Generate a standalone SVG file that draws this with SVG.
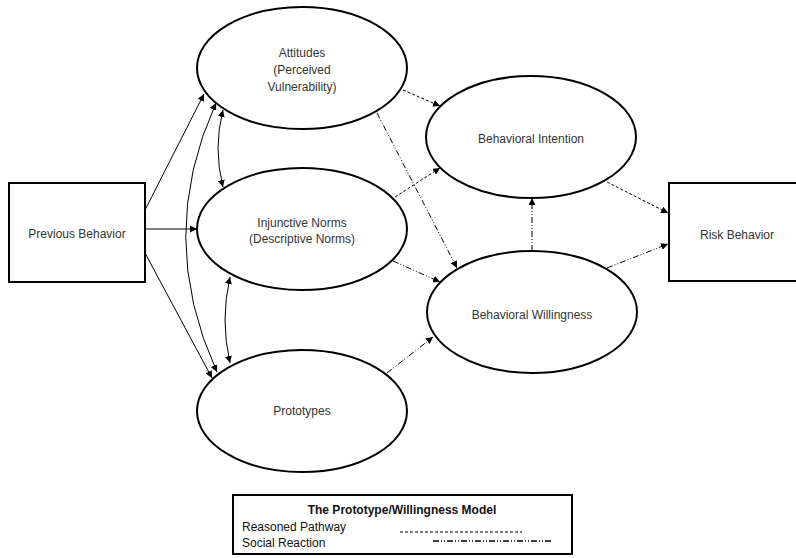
<svg xmlns="http://www.w3.org/2000/svg" width="796" height="558" viewBox="0 0 796 558">
<style>
.node{fill:#fff;stroke:#000;stroke-width:2}
.t{font-family:"Liberation Sans",Arial,sans-serif;font-size:12px;fill:#333;text-anchor:middle}
.lt{font-family:"Liberation Sans",Arial,sans-serif;font-size:12px;fill:#111}
.solid{fill:none;stroke:#000;stroke-width:1}
.reason{fill:none;stroke:#000;stroke-width:1;stroke-dasharray:3,2}
.social{fill:none;stroke:#000;stroke-width:1;stroke-dasharray:6,2,1,2,1,2}
</style>
<defs>
<marker id="ah" viewBox="0 0 10 10" refX="10" refY="5" markerWidth="7" markerHeight="7" markerUnits="userSpaceOnUse" orient="auto-start-reverse">
<path d="M0,0 L10,5 L0,10 Z" fill="#000"/>
</marker>
</defs>
<rect width="796" height="558" fill="#fff"/>
<g id="connectors">
<line class="solid" x1="145" y1="210" x2="204" y2="94" marker-end="url(#ah)"/>
<line class="solid" x1="145" y1="229" x2="197" y2="229" marker-end="url(#ah)"/>
<line class="solid" x1="145" y1="253" x2="212" y2="378" marker-end="url(#ah)"/>
<path class="solid" d="M216,103 Q155,237 217,372" marker-start="url(#ah)" marker-end="url(#ah)"/>
<path class="solid" d="M223,110 Q213,148 223,187" marker-start="url(#ah)" marker-end="url(#ah)"/>
<path class="solid" d="M230,277 Q220,320 230,363" marker-start="url(#ah)" marker-end="url(#ah)"/>
<line class="reason" x1="403" y1="90" x2="440" y2="106" marker-end="url(#ah)"/>
<line class="reason" x1="395" y1="197" x2="440" y2="168" marker-end="url(#ah)"/>
<line class="reason" x1="607" y1="182" x2="668" y2="213" marker-end="url(#ah)"/>
<line class="social" x1="377" y1="113" x2="457" y2="268" marker-end="url(#ah)"/>
<line class="social" x1="393" y1="261" x2="440" y2="282" marker-end="url(#ah)"/>
<line class="social" x1="387" y1="373" x2="433" y2="337" marker-end="url(#ah)"/>
<line class="social" x1="532" y1="251" x2="532" y2="198" marker-end="url(#ah)"/>
<line class="social" x1="607" y1="268" x2="668" y2="244" marker-end="url(#ah)"/>
</g>
<g id="previous-behavior">
<rect class="node" x="9" y="183" width="136" height="99"/>
<text class="t" x="77" y="238">Previous Behavior</text>
</g>
<g id="risk-behavior">
<rect class="node" x="669" y="183" width="140" height="98"/>
<text class="t" x="737" y="239">Risk Behavior</text>
</g>
<g id="attitudes">
<ellipse class="node" cx="302" cy="68" rx="105" ry="61"/>
<text class="t" x="302" y="57">Attitudes</text>
<text class="t" x="302" y="74">(Perceived</text>
<text class="t" x="302" y="91">Vulnerability)</text>
</g>
<g id="injunctive-norms">
<ellipse class="node" cx="302" cy="229" rx="105" ry="61"/>
<text class="t" x="302" y="227">Injunctive Norms</text>
<text class="t" x="302" y="243">(Descriptive Norms)</text>
</g>
<g id="prototypes">
<ellipse class="node" cx="302" cy="411" rx="105" ry="61"/>
<text class="t" x="302" y="415">Prototypes</text>
</g>
<g id="behavioral-intention">
<ellipse class="node" cx="531" cy="137" rx="105" ry="61"/>
<text class="t" x="531" y="143">Behavioral Intention</text>
</g>
<g id="behavioral-willingness">
<ellipse class="node" cx="532" cy="312" rx="105" ry="61"/>
<text class="t" x="532" y="319">Behavioral Willingness</text>
</g>
<g id="legend">
<rect x="233" y="495" width="339" height="59" fill="#fff" stroke="#000" stroke-width="2"/>
<text class="t" x="402" y="514" style="font-weight:bold;fill:#111">The Prototype/Willingness Model</text>
<text class="lt" x="242" y="531">Reasoned Pathway</text>
<text class="lt" x="242" y="547">Social Reaction</text>
<line class="reason" x1="400" y1="532" x2="522" y2="532"/>
<line x1="433" y1="541" x2="553" y2="541" stroke="#000" stroke-width="1.3" stroke-dasharray="6,2,1,2,1,2"/>
</g>
</svg>
